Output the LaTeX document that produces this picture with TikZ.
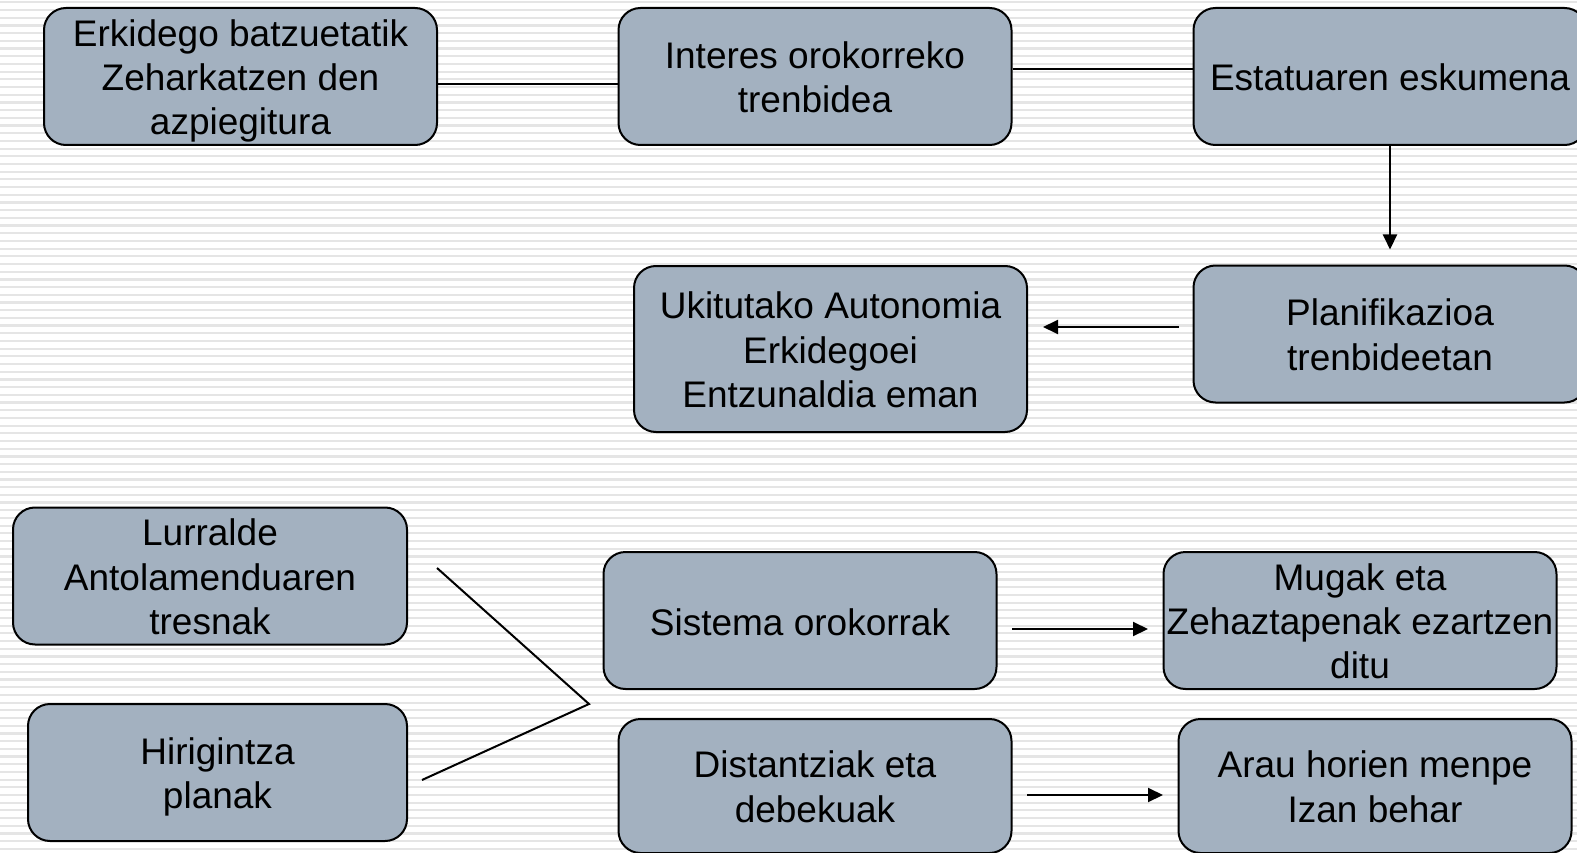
\documentclass[tikz,border=0pt]{standalone}
\usepackage{fontspec}
\setmainfont{Liberation Sans}
\usetikzlibrary{arrows.meta}
\definecolor{boxfill}{RGB}{163,177,192}
\definecolor{stripe}{RGB}{229,229,229}
\newcommand\topstrut{\rule{0pt}{36pt}}
\newcommand\onestrut{\rule[-8pt]{0pt}{45pt}}
\newcommand\botstrut{\rule[-8pt]{0pt}{0pt}}
\tikzset{
  card/.style={draw=black, line width=2pt, fill=boxfill, rounded corners=22pt,
    inner sep=0pt, align=center, minimum width=393pt, minimum height=137pt,
    font=\fontsize{37}{44.4}\selectfont},
  link/.style={line width=2pt, draw=black},
  arr/.style={link, -{Triangle[length=15pt,width=14pt]}}
}
\begin{document}
\begin{tikzpicture}[x=1pt,y=-1pt]
\clip (0,0) rectangle (1577,853);
\fill[white] (0,0) rectangle (1577,853);
\foreach \k in {0,...,111} {
  \fill[stripe] (0,{2.4+\k*7.695-1.1}) rectangle (1577,{2.4+\k*7.695+1.1});
}
\node[card] (b1) at (240.5,76.5) {\topstrut Erkidego batzuetatik\\Zeharkatzen den\\azpiegitura\botstrut};
\node[card] (b2) at (815,76.5) {\topstrut Interes orokorreko\\trenbidea\botstrut};
\node[card] (b3) at (1390,76.5) {\onestrut Estatuaren eskumena};
\node[card] (b4) at (1390,334) {\topstrut Planifikazioa\\trenbideetan\botstrut};
\node[card, minimum height=166pt] (b5) at (830.5,349) {\topstrut Ukitutako Autonomia\\Erkidegoei\\Entzunaldia eman\botstrut};
\node[card, minimum width=394pt] (b6) at (210,576) {\topstrut Lurralde\\Antolamenduaren\\tresnak\botstrut};
\node[card, minimum width=379pt] (b7) at (217.5,772.5) {\topstrut Hirigintza\\planak\botstrut};
\node[card] (b8) at (800,620.5) {\onestrut Sistema orokorrak};
\node[card] (b9) at (1360,620.5) {\topstrut Mugak eta\\Zehaztapenak ezartzen\\ditu\botstrut};
\node[card, minimum height=134pt] (b10) at (815,786) {\topstrut Distantziak eta\\debekuak\botstrut};
\node[card, minimum height=134pt] (b11) at (1375,786) {\topstrut Arau horien menpe\\Izan behar\botstrut};

\coordinate (e4) at (1390,249.5);
\coordinate (s45) at (1179,327);
\coordinate (t45) at (1043,327);
\coordinate (l1) at (437,568);
\coordinate (apex) at (589,704);
\coordinate (l2) at (422,780);
\coordinate (s89) at (1012,629);
\coordinate (t89) at (1148,629);
\coordinate (s1011) at (1027,795);
\coordinate (t1011) at (1163,795);

\draw[link] (b1.east |- 0,84) -- (b2.west |- 0,84);
\draw[link] (b2.east |- 0,69.5) -- (b3.west |- 0,69.5);
\draw[arr] (b3.south) -- (e4);
\draw[arr] (s45) -- (t45);
\draw[link] (l1) -- (apex) -- (l2);
\draw[arr] (s89) -- (t89);
\draw[arr] (s1011) -- (t1011);
\end{tikzpicture}
\end{document}
